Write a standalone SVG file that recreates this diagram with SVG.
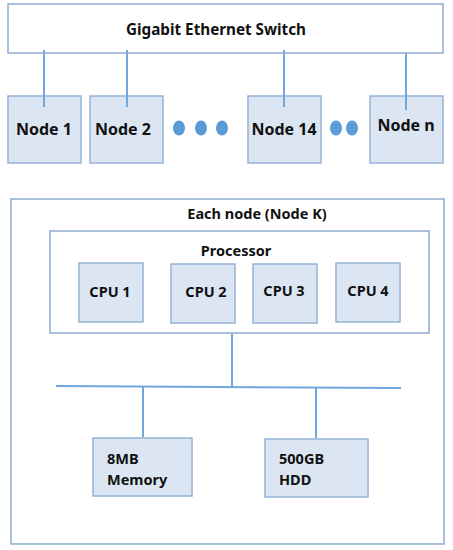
<svg xmlns="http://www.w3.org/2000/svg" width="453" height="550" viewBox="0 0 453 550">
<style>
.box{fill:#dce6f2;stroke:#95b3d7;stroke-width:1.5}
.frame{fill:none;stroke:#8faad0;stroke-width:1.5}
.ln{stroke:#6fa8dc;stroke-width:2;fill:none}
.dot{fill:#5b9bd5}
text{font-family:"Noto Sans","Liberation Sans",sans-serif;font-weight:bold;fill:#111}
.t16{font-size:16px}
.t15{font-size:14.5px}
</style>
<rect width="453" height="550" fill="#ffffff"/>
<g id="switch">
<rect class="frame" x="8" y="4" width="435" height="49"/>
<text class="t16" x="216" y="35" text-anchor="middle" textLength="180" lengthAdjust="spacingAndGlyphs">Gigabit Ethernet Switch</text>
</g>
<g id="node1">
<rect class="box" x="8" y="96" width="73" height="67"/>
<text class="t16" x="44" y="135" text-anchor="middle">Node 1</text>
</g>
<g id="node2">
<rect class="box" x="90" y="96" width="73" height="67"/>
<text class="t16" x="123" y="135" text-anchor="middle">Node 2</text>
</g>
<g id="dots1">
<ellipse class="dot" cx="179" cy="128" rx="6" ry="7.5"/>
<ellipse class="dot" cx="201" cy="128" rx="6" ry="7.5"/>
<ellipse class="dot" cx="222" cy="128" rx="6" ry="7.5"/>
</g>
<g id="node14">
<rect class="box" x="248" y="96" width="73" height="67"/>
<text class="t16" x="284" y="135" text-anchor="middle">Node 14</text>
</g>
<g id="dots2">
<ellipse class="dot" cx="336" cy="128" rx="6" ry="7.5"/>
<ellipse class="dot" cx="352" cy="128" rx="6" ry="7.5"/>
</g>
<g id="noden">
<rect class="box" x="370" y="96" width="73" height="67"/>
<text class="t16" x="406" y="131" text-anchor="middle">Node n</text>
</g>
<g id="nodek">
<rect class="frame" x="11" y="199" width="433" height="345"/>
<text class="t15" x="257" y="219" text-anchor="middle">Each node (Node K)</text>
</g>
<g id="processor">
<rect class="frame" x="50" y="231" width="379" height="102"/>
<text class="t15" x="236" y="256" text-anchor="middle">Processor</text>
</g>
<g id="cpu1">
<rect class="box" x="79" y="263" width="64" height="59"/>
<text class="t15" x="110" y="297" text-anchor="middle">CPU 1</text>
</g>
<g id="cpu2">
<rect class="box" x="171" y="264" width="64" height="59"/>
<text class="t15" x="206" y="297" text-anchor="middle">CPU 2</text>
</g>
<g id="cpu3">
<rect class="box" x="253" y="264" width="64" height="59"/>
<text class="t15" x="284" y="296" text-anchor="middle">CPU 3</text>
</g>
<g id="cpu4">
<rect class="box" x="336" y="263" width="64" height="59"/>
<text class="t15" x="368" y="296" text-anchor="middle">CPU 4</text>
</g>
<g id="memory">
<rect class="box" x="93" y="438" width="99" height="58"/>
<text class="t15" x="107" y="464">8MB</text>
<text class="t15" x="107" y="485">Memory</text>
</g>
<g id="hdd">
<rect class="box" x="265" y="439" width="103" height="58"/>
<text class="t15" x="279" y="464">500GB</text>
<text class="t15" x="279" y="485">HDD</text>
</g>
<g id="connectors">
<line class="ln" x1="44" y1="50" x2="44" y2="107"/>
<line class="ln" x1="127" y1="50" x2="127" y2="107"/>
<line class="ln" x1="284" y1="50" x2="284" y2="107"/>
<line class="ln" x1="406" y1="53" x2="406" y2="110"/>
<line class="ln" x1="232" y1="334" x2="232" y2="387"/>
<line class="ln" x1="56" y1="386" x2="401" y2="388"/>
<line class="ln" x1="143" y1="387" x2="143" y2="437"/>
<line class="ln" x1="316" y1="388" x2="316" y2="438"/>
</g>
</svg>
